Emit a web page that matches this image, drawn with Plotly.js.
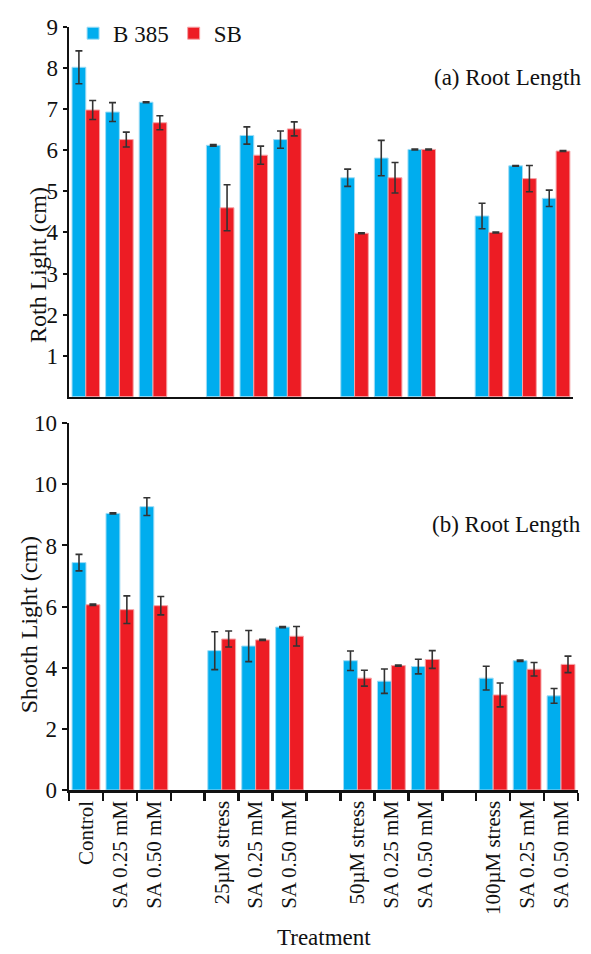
<!DOCTYPE html>
<html>
<head>
<meta charset="utf-8">
<script src="https://cdn.plot.ly/plotly-3.0.1.min.js"></script>
<style>html,body{margin:0;padding:0;background:#fff;}#chart{width:591px;height:954px;}</style>
</head>
<body>
<div id="chart"></div>
<script>
// ---- data ----
const treatments = ['Control','SA 0.25 mM','SA 0.50 mM',
                    '25µM stress','SA 0.25 mM','SA 0.50 mM',
                    '50µM stress','SA 0.25 mM','SA 0.50 mM',
                    '100µM stress','SA 0.25 mM','SA 0.50 mM'];
const seriesNames = ['B 385','SB'];

const rootB385    = [8.02,6.93,7.17, 6.12,6.36,6.26, 5.33,5.81,6.02, 4.40,5.62,4.83];
const rootB385Err = [0.40,0.23,0.01, 0.02,0.21,0.21, 0.21,0.43,0.01, 0.31,0.01,0.20];
const rootSB      = [6.98,6.26,6.67, 4.60,5.88,6.52, 3.98,5.33,6.02, 4.00,5.31,5.98];
const rootSBErr   = [0.23,0.18,0.17, 0.56,0.22,0.17, 0.01,0.37,0.01, 0.01,0.32,0.01];

const shootB385    = [7.44,9.05,9.27, 4.56,4.71,5.33, 4.23,3.56,4.04, 3.66,4.23,3.08];
const shootB385Err = [0.27,0.02,0.29, 0.62,0.51,0.02, 0.32,0.40,0.24, 0.39,0.02,0.24];
const shootSB      = [6.06,5.90,6.03, 4.94,4.91,5.03, 3.66,4.07,4.27, 3.11,3.95,4.11];
const shootSBErr   = [0.02,0.45,0.30, 0.26,0.02,0.32, 0.26,0.02,0.29, 0.39,0.22,0.27];

const rootTicks  = [1,2,3,4,5,6,7,8,9];
const shootTickVals = [0,2,4,6,8,10,12];
const shootTickText = ['0','2','4','6','8','10','10'];

// ---- build category slots with empty gap slots between groups ----
const groupSize = 3;
const ids = [], labels = [], idxMap = [];
treatments.forEach((t, i) => {
  if (i > 0 && i % groupSize === 0) { ids.push('gap' + i); labels.push(''); idxMap.push(-1); }
  ids.push('c' + i); labels.push(t); idxMap.push(i);
});
const spread = arr => idxMap.map(k => k < 0 ? null : arr[k]);

const FONT = 'Liberation Serif';
const BLUE = '#00adee', RED = '#ed1c24';
const lineCol = ['#9fdcf5', '#f5a3a6'];
const colors = [BLUE, RED];

function barTrace(name, vals, errs, ci, xa, ya, showleg) {
  return {
    type: 'bar', name: name, x: ids, y: spread(vals),
    xaxis: xa, yaxis: ya, showlegend: showleg,
    marker: {color: colors[ci], line: {color: lineCol[ci], width: 1}},
    error_y: {type: 'data', array: spread(errs), visible: true, color: '#333', thickness: 1.6, width: 3.5}
  };
}

const data = [
  barTrace(seriesNames[0], rootB385, rootB385Err, 0, 'x', 'y', true),
  barTrace(seriesNames[1], rootSB, rootSBErr, 1, 'x', 'y', true),
  barTrace(seriesNames[0], shootB385, shootB385Err, 0, 'x2', 'y2', false),
  barTrace(seriesNames[1], shootSB, shootSBErr, 1, 'x2', 'y2', false)
];

const axCommon = {
  type: 'category', categoryorder: 'array', categoryarray: ids,
  showgrid: false, zeroline: false, showline: true, linecolor: '#111', linewidth: 2.5,
  fixedrange: true
};

const layout = {
  width: 591, height: 954,
  margin: {l: 69, r: 13, t: 12, b: 164},
  paper_bgcolor: '#fff', plot_bgcolor: '#fff',
  font: {family: FONT, color: '#111', size: 22},
  barmode: 'group', bargap: 0.18, bargroupgap: 0,
  showlegend: true,
  legend: {orientation: 'h', x: 0.008, xanchor: 'left', y: 1.02, yanchor: 'top',
           font: {family: FONT, size: 23, color: '#111'}, bgcolor: 'rgba(0,0,0,0)',
           itemwidth: 30, tracegroupgap: 0},
  xaxis: Object.assign({}, axCommon, {anchor: 'y', domain: [0, 0.99], showticklabels: false, ticks: ''}),
  yaxis: {anchor: 'x', domain: [0.5154, 1], range: [0, 9], tickmode: 'array', tickvals: rootTicks,
          showgrid: false, zeroline: false, showline: true, linecolor: '#111', linewidth: 2.5,
          ticks: 'outside', ticklen: 4, tickwidth: 2, tickcolor: '#111',
          tickfont: {family: FONT, size: 23, color: '#111'}},
  xaxis2: Object.assign({}, axCommon, {anchor: 'y2', domain: [0, 1],
          tickmode: 'array', tickvals: ids, ticktext: labels, tickson: 'boundaries',
          ticks: 'outside', ticklen: 8, tickwidth: 2.5, tickcolor: '#111', tickangle: -90,
          tickfont: {family: FONT, size: 21, color: '#111'}}),
  yaxis2: {anchor: 'x2', domain: [0, 0.4807], range: [0, 12], tickmode: 'array',
           tickvals: shootTickVals, ticktext: shootTickText,
           showgrid: false, zeroline: false, showline: true, linecolor: '#111', linewidth: 2.5,
           ticks: 'outside', ticklen: 5, tickwidth: 2, tickcolor: '#111',
           tickfont: {family: FONT, size: 23, color: '#111'}},
  annotations: [
    {text: '(a) Root Length', xref: 'paper', yref: 'paper', x: 1.01, y: 0.934, xanchor: 'right', yanchor: 'middle',
     showarrow: false, font: {family: FONT, size: 23, color: '#111'}},
    {text: '(b) Root Length', xref: 'paper', yref: 'paper', x: 1.01, y: 0.348, xanchor: 'right', yanchor: 'middle',
     showarrow: false, font: {family: FONT, size: 23, color: '#111'}},
    {text: 'Roth Light (cm)', xref: 'paper', yref: 'paper', x: -0.061, y: 0.688, xanchor: 'center', yanchor: 'middle',
     textangle: -90, showarrow: false, font: {family: FONT, size: 24, color: '#111'}},
    {text: 'Shooth Light (cm)', xref: 'paper', yref: 'paper', x: -0.077, y: 0.217, xanchor: 'center', yanchor: 'middle',
     textangle: -90, showarrow: false, font: {family: FONT, size: 24, color: '#111'}},
    {text: 'Treatment', xref: 'paper', yref: 'paper', x: 0.5, y: -0.193, xanchor: 'center', yanchor: 'middle',
     showarrow: false, font: {family: FONT, size: 23, color: '#111'}}
  ]
};

Plotly.newPlot('chart', data, layout, {displayModeBar: false, staticPlot: true});
</script>
</body>
</html>
